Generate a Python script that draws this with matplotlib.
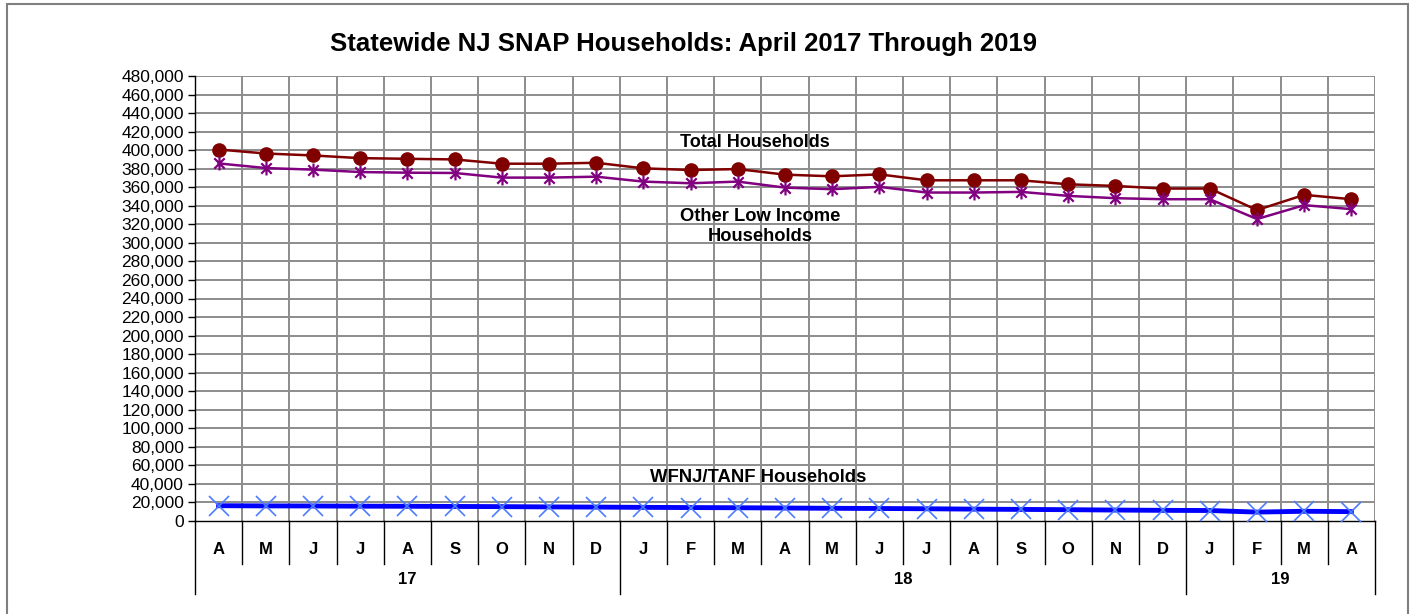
import matplotlib
matplotlib.use("Agg")
import matplotlib.pyplot as plt
from matplotlib.path import Path
from matplotlib.lines import Line2D
from matplotlib.patches import Rectangle
from matplotlib.ticker import FuncFormatter, MultipleLocator

plt.rcParams['font.family'] = ['Liberation Sans', 'DejaVu Sans']

months = ["A", "M", "J", "J", "A", "S", "O", "N", "D",
          "J", "F", "M", "A", "M", "J", "J", "A", "S", "O", "N", "D",
          "J", "F", "M", "A"]
years = ["17", "18", "19"]
year_spans = [(0, 9), (9, 21), (21, 25)]

total = [400700, 396400, 394300, 391400, 390700, 390000, 385400, 385400, 386400,
         380400, 378600, 379600, 373600, 371800, 373900, 367500, 367500, 367500,
         363200, 361400, 358600, 358600, 335400, 351800, 347100]
other = [385700, 380700, 379000, 376400, 375700, 375400, 370400, 370400, 371400,
         366100, 364300, 366100, 359600, 357900, 360400, 354300, 354300, 355000,
         350700, 348200, 347100, 347100, 325700, 340700, 336400]
wfnj = [16500, 16300, 16200, 16000, 15900, 15700, 15500, 15200, 15000,
        14700, 14500, 14300, 14000, 13700, 13500, 13200, 12800, 12500,
        12200, 11800, 11500, 11300, 9600, 10500, 10100]

W, H = 1415, 614
fig = plt.figure(figsize=(W / 100, H / 100), dpi=100)
fig.patch.set_facecolor('white')

# outer frame
fig.add_artist(Rectangle((7 / W, -0.01), (1408 - 7) / W, 1.01 - 4 / H,
                         transform=fig.transFigure, fill=False,
                         edgecolor='#7f7f7f', linewidth=1.5))

left, right, top, bottom = 195, 1375, 76, 521
ax = fig.add_axes([left / W, (H - bottom) / H, (right - left) / W, (bottom - top) / H])

x = list(range(len(months)))
ax.set_xlim(-0.5, len(months) - 0.5)
ax.set_ylim(0, 480000)

# grid
for k in range(len(months) + 1):
    ax.axvline(k - 0.5, color='#8c8c8c', linewidth=1.4, zorder=1)
for v in range(20000, 480001, 20000):
    ax.axhline(v, color='#8c8c8c', linewidth=1.4, zorder=1)

ax.yaxis.set_major_locator(MultipleLocator(20000))
ax.yaxis.set_major_formatter(FuncFormatter(lambda v, p: f"{int(v):,}"))
ax.tick_params(axis='y', direction='out', length=5, width=1, labelsize=12.5,
               pad=3, colors='black')
ax.set_xticks([])
for s in ['top', 'right']:
    ax.spines[s].set_visible(False)
ax.spines['left'].set_color('black')
ax.spines['bottom'].set_color('black')
ax.spines['left'].set_linewidth(1)
ax.spines['bottom'].set_linewidth(1)

star = Path([(0, -1), (0, 1), (-0.75, -0.75), (0.75, 0.75), (-0.75, 0.75), (0.75, -0.75)],
            [Path.MOVETO, Path.LINETO, Path.MOVETO, Path.LINETO, Path.MOVETO, Path.LINETO])

ax.plot(x, total, color='#800000', linewidth=1.8, marker='o', markersize=9.5,
        markerfacecolor='#800000', markeredgecolor='#800000', zorder=4, clip_on=False)
ax.plot(x, other, color='#800080', linewidth=1.8, marker=star, markersize=10,
        markeredgewidth=1.6, markeredgecolor='#800080', zorder=4, clip_on=False)
ax.plot(x, wfnj, color='#0000ff', linewidth=3.5, zorder=4, clip_on=False)
ax.plot(x, wfnj, linestyle='none', marker='x', markersize=14, markeredgewidth=1.2,
        markeredgecolor='#4d7cff', zorder=5, clip_on=False)

ax.text(11.36, 408800, "Total Households", ha='center', va='center',
        fontsize=13, fontweight='bold', zorder=6)
ax.text(11.47, 317700, "Other Low Income\nHouseholds", ha='center', va='center',
        fontsize=13.2, fontweight='bold', linespacing=1.2, zorder=6)
ax.text(11.43, 46400, "WFNJ/TANF Households", ha='center', va='center',
        fontsize=13.3, fontweight='bold', zorder=6)

# category table below axis
trans = ax.get_xaxis_transform()
axh = bottom - top
y_month = -(549 - bottom) / axh
y_year = -(580 - bottom) / axh
y_msep = -(564 - bottom) / axh
y_ysep = -(594 - bottom) / axh
for i, m in enumerate(months):
    ax.text(i, y_month, m, transform=trans, ha='center', va='center',
            fontsize=12, fontweight='bold')
year_edges = set()
for (a, b) in year_spans:
    year_edges.add(a)
    year_edges.add(b)
for k in range(len(months) + 1):
    y_end = y_ysep if k in year_edges else y_msep
    ax.add_line(Line2D([k - 0.5, k - 0.5], [0, y_end], transform=trans,
                       color='black', linewidth=1, clip_on=False))
for yl, (a, b) in zip(years, year_spans):
    ax.text((a + b) / 2 - 0.5, y_year, yl, transform=trans, ha='center',
            va='center', fontsize=12, fontweight='bold')

fig.text(683 / W, 1 - 44 / H,
         "Statewide NJ SNAP Households: April 2017 Through 2019",
         ha='center', va='center', fontsize=18.5, fontweight='bold')

fig.savefig("out.png", dpi=100)
